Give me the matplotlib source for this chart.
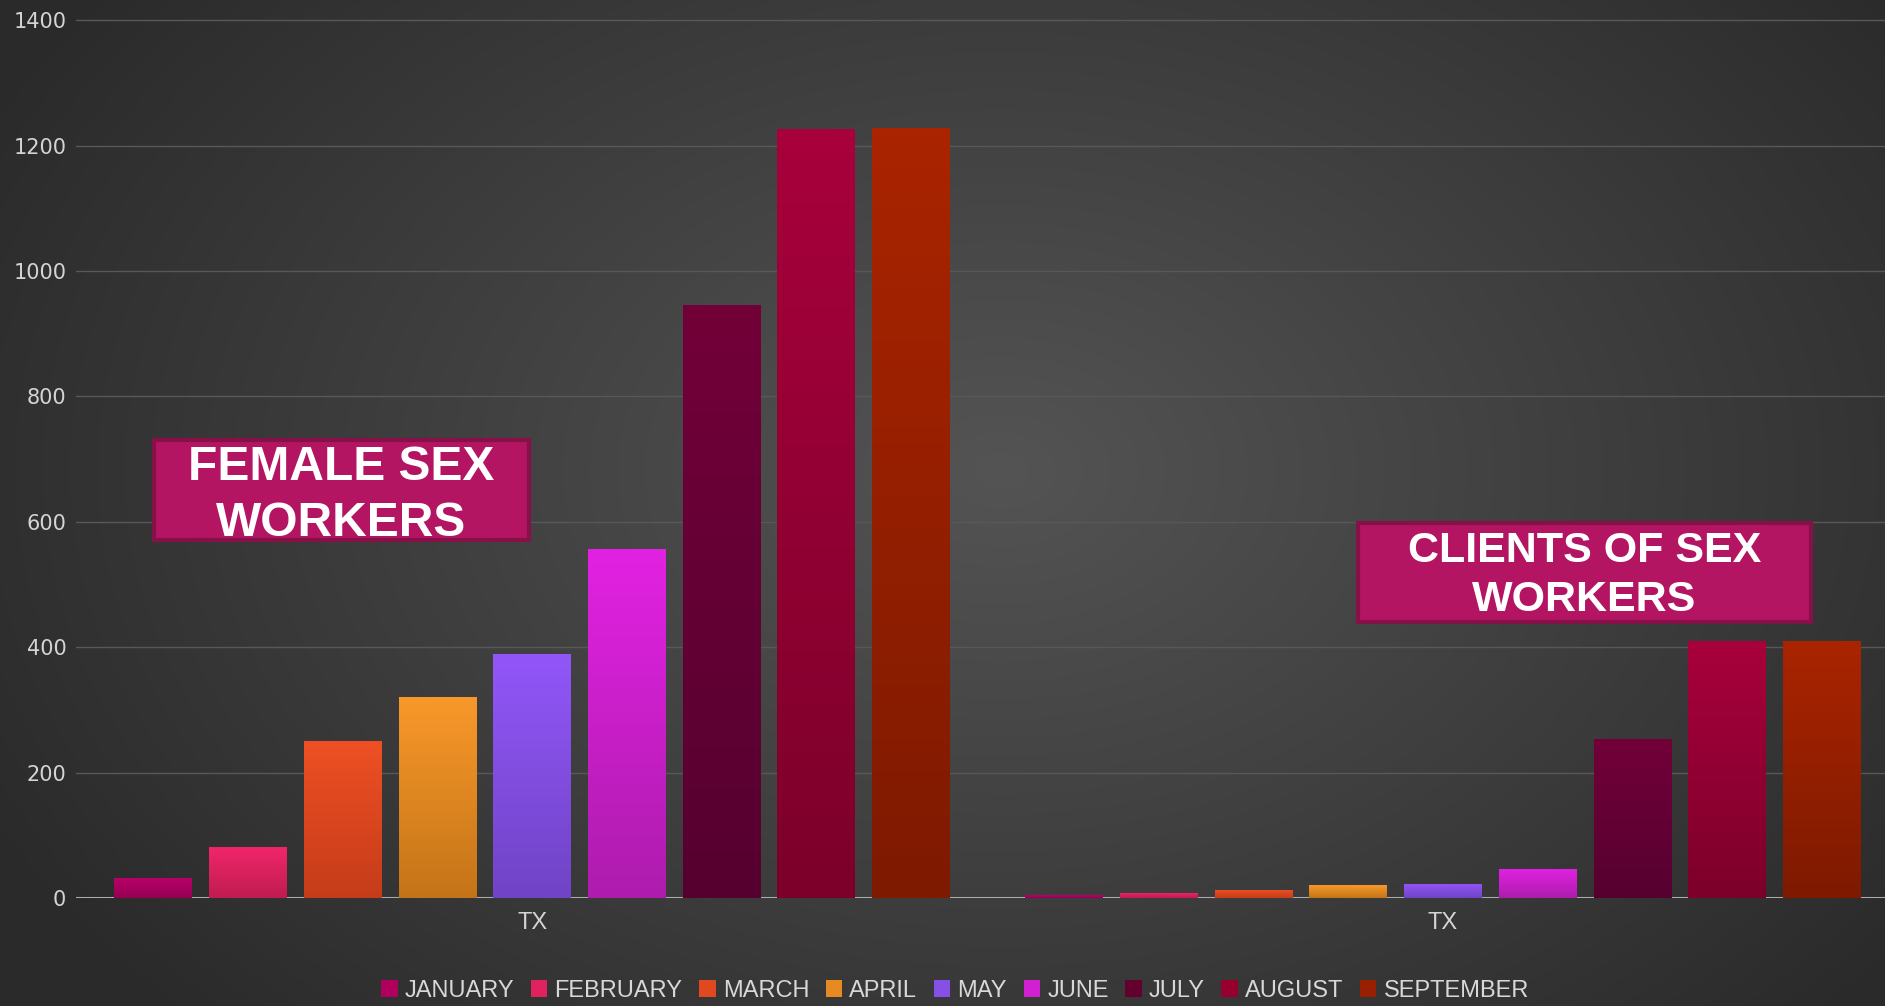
import numpy as np
import matplotlib
matplotlib.use("Agg")
import matplotlib.pyplot as plt
from matplotlib.patches import Rectangle, Patch
from matplotlib.colors import to_rgb

# ---- data ----
categories = ["TX", "TX"]
months = ["JANUARY", "FEBRUARY", "MARCH", "APRIL", "MAY", "JUNE", "JULY", "AUGUST", "SEPTEMBER"]
female_sex_workers = [32, 81, 251, 320, 389, 557, 946, 1226, 1228]
clients_of_sex_workers = [4, 8, 13, 20, 23, 47, 253, 410, 410]
series_values = [[f, c] for f, c in zip(female_sex_workers, clients_of_sex_workers)]
yticks = [0, 200, 400, 600, 800, 1000, 1200, 1400]
annotations = ["FEMALE SEX\nWORKERS", "CLIENTS OF SEX\nWORKERS"]

# ---- style ----
top_colors = ["#b8006a", "#f0266a", "#ee5024", "#f8982a", "#9256f8", "#e222e2", "#720038", "#a8003c", "#aa2400"]
bot_colors = ["#960052", "#c01c50", "#c63c1a", "#c47418", "#7044c6", "#ae1cae", "#560030", "#7c002a", "#7e1a00"]
legend_colors = ["#b0005e", "#e0225e", "#e04820", "#e88a22", "#8450e6", "#d020d0", "#62002e", "#96002e", "#982000"]

W, H = 1885, 1006
fig = plt.figure(figsize=(W / 100, H / 100), dpi=100)

# radial gradient background
bg = fig.add_axes([0, 0, 1, 1], zorder=-10)
yy, xx = np.mgrid[0:H:2, 0:W:2]
cx, cy = 1000, 470
r = np.sqrt(((xx - cx) / 1150.0) ** 2 + ((yy - cy) / 800.0) ** 2)
r = np.clip(r, 0, 1)
c_in, c_out = np.array([0x54, 0x54, 0x54]) / 255, np.array([0x2a, 0x2a, 0x2a]) / 255
img = c_in[None, None, :] * (1 - r[..., None]) + c_out[None, None, :] * r[..., None]
bg.imshow(img, extent=[0, 1, 0, 1], aspect="auto", origin="upper")
bg.set_axis_off()

ax_left, ax_bottom = 76 / W, 108 / H
ax = fig.add_axes([ax_left, ax_bottom, 1 - ax_left, (898 - 19) / H])
ax.patch.set_alpha(0)

n = len(months)
step = 0.104
width = 0.0855
x_centers = np.arange(len(categories))

for i in range(n):
    xs = x_centers + (i - (n - 1) / 2) * step
    bars = ax.bar(xs, series_values[i], width=width, color=legend_colors[i], zorder=3)
    t, b = np.array(to_rgb(top_colors[i])), np.array(to_rgb(bot_colors[i]))
    grad = np.linspace(0, 1, 64)[:, None, None]
    gimg = b[None, None, :] * (1 - grad) + t[None, None, :] * grad
    for bar in bars:
        x0, y0 = bar.get_x(), bar.get_y()
        im = ax.imshow(gimg, extent=[x0, x0 + bar.get_width(), y0, y0 + bar.get_height()],
                       aspect="auto", origin="lower", zorder=4, interpolation="bilinear")
        im.set_clip_path(bar)

ax.set_xlim(-0.501, 1.4853)
ax.set_ylim(0, 1402)
ax.set_yticks(yticks)
ax.set_yticklabels([str(v) for v in yticks], fontsize=15, color="#d4d4d4", family="DejaVu Sans")
ax.set_xticks(x_centers)
ax.set_xticklabels(categories, fontsize=17, color="#d4d4d4", family="Liberation Sans")
ax.tick_params(axis="both", length=0)
ax.tick_params(axis="y", pad=7)
ax.tick_params(axis="x", pad=10)
for s in ax.spines.values():
    s.set_visible(False)
ax.yaxis.grid(True, color="#585858", lw=1, zorder=0)
ax.set_axisbelow(True)
ax.axhline(0, color="#acacac", lw=2.2, zorder=2)

# annotation boxes (figure pixel coords)
boxes = [(154, 440, 529, 540), (1358, 523, 1811, 622)]
text_y = [(467, 523), (551, 600)]
text_sizes = [34.5, 31]
for (x0, y0, x1, y1), txt in zip(boxes, annotations):
    rect = Rectangle((x0 / W, 1 - y1 / H), (x1 - x0) / W, (y1 - y0) / H,
                     transform=fig.transFigure, facecolor="#b31563", edgecolor="#861048",
                     lw=3, zorder=20)
    fig.patches.append(rect)
for (x0, y0, x1, y1), (ta, tb), txt, fs in zip(boxes, text_y, annotations, text_sizes):
    cxp = (x0 + x1) / 2
    for line, ty in zip(txt.split("\n"), (ta, tb)):
        fig.text(cxp / W, 1 - ty / H, line, ha="center", va="center", color="white",
                 fontsize=fs, fontweight="bold", family="Liberation Sans", zorder=21)

handles = [Patch(facecolor=c, edgecolor="none") for c in legend_colors]
leg = fig.legend(handles, months, loc="center", bbox_to_anchor=(955 / W, 1 - 991 / H), ncol=n,
                 frameon=False, prop={"family": "Liberation Sans", "size": 17},
                 handlelength=0.7, handleheight=0.7, handletextpad=0.3, columnspacing=0.7)
for t in leg.get_texts():
    t.set_color("#d8d8d8")

fig.savefig("out.png", dpi=100)
